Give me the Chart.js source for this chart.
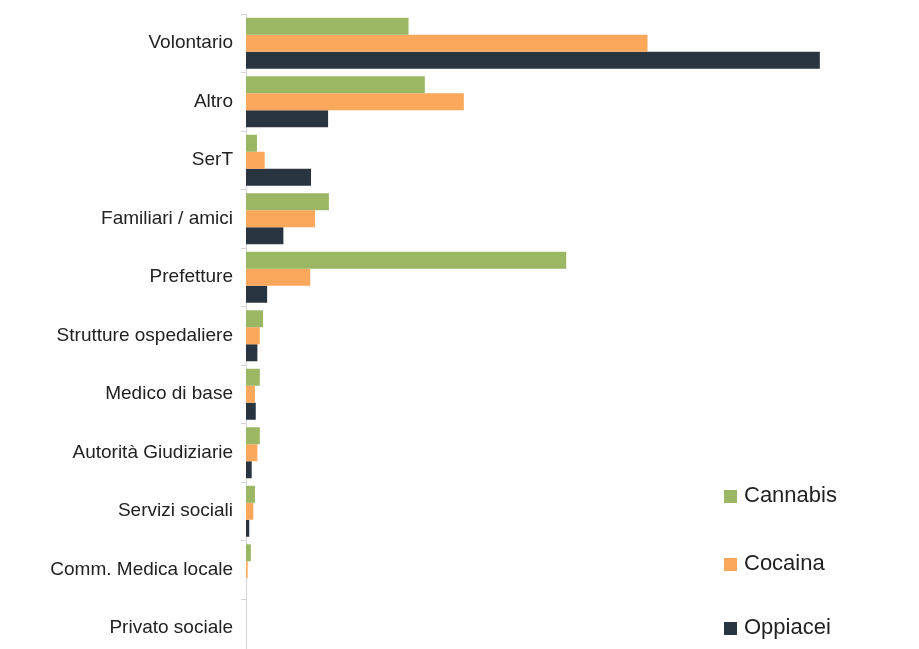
<!DOCTYPE html>
<html>
<head>
<meta charset="utf-8">
<script src="https://cdn.jsdelivr.net/npm/chart.js@4"></script>
<style>
  body { margin: 0; background: #fff; }
  #wrap { position: relative; width: 919px; height: 649px; overflow: hidden; }
  #legend { position: absolute; left: 724px; top: 480px; font-family: "Liberation Sans", Arial, sans-serif; font-size: 22px; color: #222; }
  #legend div { position: absolute; white-space: nowrap; line-height: 30px; }
  #legend span { display: inline-block; width: 13px; height: 13px; margin-right: 7px; vertical-align: -1px; }
</style>
</head>
<body>
<div id="wrap">
  <canvas id="chart" width="919" height="660"></canvas>
  <div id="legend"></div>
</div>
<script>
// percentuali per canale di invio
var categories = ["Volontario", "Altro", "SerT", "Familiari / amici", "Prefetture",
  "Strutture ospedaliere", "Medico di base", "Autorità Giudiziarie", "Servizi sociali",
  "Comm. Medica locale", "Privato sociale"];
var cannabis = [20.0, 22.0, 1.35, 10.2, 39.4, 2.1, 1.7, 1.7, 1.1, 0.6, 0];
var cocaina  = [49.4, 26.8, 2.3, 8.5, 7.9, 1.7, 1.1, 1.4, 0.9, 0.2, 0];
var oppiacei = [70.6, 10.1, 8.0, 4.6, 2.6, 1.4, 1.2, 0.7, 0.4, 0, 0];
var seriesNames = ["Cannabis", "Cocaina", "Oppiacei"];
var seriesColors = ["#9bb764", "#fba75c", "#28343f"];

var datasets = [cannabis, cocaina, oppiacei].map(function(d, i) {
  return {
    label: seriesNames[i],
    data: d,
    backgroundColor: seriesColors[i],
    categoryPercentage: 0.87,
    barPercentage: 1.0
  };
});

var ctx = document.getElementById("chart").getContext('2d');
var myChart = new Chart(ctx, {
  type: 'bar',
  data: { labels: categories, datasets: datasets },
  options: {
    indexAxis: 'y',
    responsive: false,
    animation: false,
    // l'ultima categoria esce dal riquadro visibile
    layout: { padding: { top: 14, bottom: 2.5, left: 0, right: 0 } },
    plugins: { legend: { display: false }, tooltip: { enabled: false } },
    scales: {
      x: { display: false, min: 0, max: 82.8 },
      y: {
        afterFit: function(scale) {
          scale.width = 246;
          scale.paddingTop = 0;
          scale.paddingBottom = 0;
        },
        grid: { drawOnChartArea: false, tickLength: 5, color: '#d4d4d4' },
        border: { color: '#d4d4d4' },
        ticks: {
          padding: 8,
          color: '#222',
          font: { family: '"Liberation Sans", Arial, sans-serif', size: 19 }
        }
      }
    }
  }
});

// legenda a destra, in basso
var legendTops = [0, 68, 132];
var legend = document.getElementById("legend");
seriesNames.forEach(function(name, i) {
  var row = document.createElement("div");
  row.style.top = legendTops[i] + "px";
  row.innerHTML = '<span style="background:' + seriesColors[i] + '"></span>' + name;
  legend.appendChild(row);
});
</script>
</body>
</html>
